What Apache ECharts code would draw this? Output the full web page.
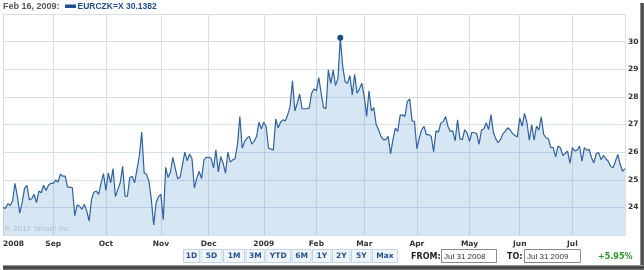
<!DOCTYPE html>
<html><head><meta charset="utf-8">
<script src="https://cdn.jsdelivr.net/npm/echarts@6/dist/echarts.min.js"></script>
<style>html,body{margin:0;padding:0;background:#fff}#c{width:644px;height:270px}</style>
</head><body><div id="c"></div>
<script>
// EURCZK=X daily close, weekdays 2008-08-01 .. 2009-07-31
const rateValues = [
24.0,23.96,24.13,24.07,24.23,24.87,24.41,23.79,24.17,24.69,
24.8,24.27,24.31,24.47,24.17,24.59,24.53,24.8,24.61,24.8,
24.87,24.87,24.99,24.92,25.2,25.13,25.13,24.73,24.73,24.71,
23.7,24.08,24.05,23.93,24.11,23.87,23.5,24.29,24.55,24.59,
24.47,24.89,25.22,24.61,25.25,24.89,25.4,24.39,24.65,24.89,
25.49,24.4,24.41,25.07,25.13,24.89,25.37,25.86,26.73,25.25,
25.19,24.95,24.29,23.36,24.17,24.39,24.47,23.55,
25.45,25.08,25.28,25.81,25.42,25.04,25.08,25.54,26.0,25.69,
25.93,25.76,24.7,25.06,25.3,25.04,25.72,25.81,25.81,25.78,
25.42,26.08,25.28,25.84,25.6,25.24,26.0,25.64,25.72,25.76,
26.27,27.29,26.14,26.39,26.51,26.57,26.29,26.39,26.57,27.08,
26.84,27.08,26.93,26.14,26.11,26.08,27.2,26.87,27.08,27.17,
27.13,27.35,27.65,28.58,27.49,27.77,28.1,27.57,27.57,27.57,
27.59,28.13,28.29,28.22,
28.7,28.13,27.61,27.57,28.98,28.49,28.98,28.41,28.67,30.1382,
29.1,28.55,28.49,28.77,28.07,28.82,28.13,28.29,28.49,28.01,
27.29,28.22,27.49,27.61,26.99,26.81,26.57,26.45,26.45,26.57,
25.94,26.45,26.87,26.75,27.33,27.35,27.29,27.83,27.93,27.13,
27.11,26.12,26.51,26.81,26.93,26.63,26.63,26.57,26.02,26.77,
26.72,27.05,27.11,27.29,26.93,26.75,26.77,26.41,27.17,26.48,
26.45,26.81,26.69,26.39,26.72,26.7,26.67,26.28,26.8,26.84,
27.06,26.82,27.36,26.7,26.48,26.34,26.46,
26.67,26.76,26.88,26.8,26.67,26.6,26.55,27.24,
26.94,27.4,27.08,26.43,27.0,26.43,26.94,26.8,27.28,26.64,
26.52,26.48,26.16,26.16,25.83,26.22,26.16,25.88,25.95,26.04,
25.59,26.16,26.04,
26.07,26.22,25.67,26.16,26.07,26.1,25.8,25.61,25.95,25.98,
25.73,25.88,25.76,25.67,25.49,25.43,25.67,25.92,25.55,25.31,25.4
];
const monthTickLabels = ['2008','Sep','Oct','Nov','Dec','2009','Feb','Mar','Apr','May','Jun','Jul'];
const yTicks = [24,25,26,27,28,29,30];
const rangeButtons = ['1D','5D','1M','3M','YTD','6M','1Y','2Y','5Y','Max'];
const symbolName = 'EURCZK=X';
const fromDate = 'Jul 31 2008', toDate = 'Jul 31 2009', changeText = '+5.95%';

// weekday categories
const dates = [];
for (let t = Date.UTC(2008,7,1); t <= Date.UTC(2009,6,31); t += 86400000) {
  const d = new Date(t); const wd = d.getUTCDay();
  if (wd === 0 || wd === 6) continue;
  dates.push(d.toISOString().slice(0,10));
}
const monthLabelAt = {};
let k = 0;
dates.forEach((s,i)=>{ if (i===0 || s.slice(5,7)!==dates[i-1].slice(5,7)) monthLabelAt[i] = monthTickLabels[k++]; });
const isMonthStart = (i)=> monthLabelAt[i] !== undefined;

let peakI = 0; rateValues.forEach((v,i)=>{ if (v>rateValues[peakI]) peakI=i; });
const mNames=['Jan','Feb','Mar','Apr','May','Jun','Jul','Aug','Sep','Oct','Nov','Dec'];
const pd = dates[peakI].split('-');
const peakDateText = mNames[+pd[1]-1]+' '+(+pd[2])+', '+pd[0]+':';

const FONT = 'DejaVu Sans';
const gridColor = '#d5e0ea';
const chart = echarts.init(document.getElementById('c'), null, {renderer:'canvas'});

function txt(x, y, s, size, color, weight, family, align) {
  return {type:'text', x:x, y:y, style:{text:s, fontSize:size, fontWeight:weight||'normal', fontFamily:family||FONT, fill:color, align:align||'left', verticalAlign:'middle'}};
}
const btnX = [183,200.5,223,245.5,265.5,291.5,312,332,351,372,398.5];
const graphics = [
  txt(3, 7, peakDateText, 9, '#555', 'bold', 'Liberation Sans'),
  {type:'rect', shape:{x:65,y:4.5,width:11,height:3.5}, style:{fill:'#1f4f8f'}},
  txt(77.5, 7, symbolName+' '+rateValues[peakI].toFixed(4), 8.5, '#1f4f8f', 'bold', 'Liberation Sans'),
  txt(4, 229, '\u00a9 2012 Yahoo! Inc.', 7, '#c3cbd3'),
  txt(411, 257, 'FROM:', 8, '#222', 'bold'),
  {type:'rect', shape:{x:441.5,y:249.5,width:55,height:13}, style:{fill:'#fff', stroke:'#8a8a8a', lineWidth:1}},
  txt(444, 256.5, fromDate, 8, '#333', 'normal', 'Liberation Sans'),
  txt(507, 257, 'TO:', 8, '#222', 'bold'),
  {type:'rect', shape:{x:524.5,y:249.5,width:56,height:13}, style:{fill:'#fff', stroke:'#8a8a8a', lineWidth:1}},
  txt(527, 256.5, toDate, 8, '#333', 'normal', 'Liberation Sans'),
  txt(598, 257, changeText, 8, '#2a962a', 'bold'),
  {type:'rect', shape:{x:640,y:3,width:4,height:267}, style:{fill:new echarts.graphic.LinearGradient(0,0,1,0,[{offset:0,color:'#b0b0b0'},{offset:0.4,color:'#444'},{offset:1,color:'#666'}])}},
  {type:'rect', shape:{x:3,y:265,width:641,height:5}, style:{fill:new echarts.graphic.LinearGradient(0,0,0,1,[{offset:0,color:'#b0b0b0'},{offset:0.4,color:'#333'},{offset:1,color:'#777'}])}}
];
rangeButtons.forEach((b,i)=>{
  const x0=btnX[i]+0.5, w=btnX[i+1]-btnX[i]-1.5;
  graphics.push({type:'rect', shape:{x:x0,y:249.5,width:w,height:13}, style:{fill:'#f0f5fb', stroke:'#c3d3e6', lineWidth:1}});
  graphics.push(txt(x0+w/2, 256.5, b, 7.5, '#1f4f8f', 'bold', FONT, 'center'));
});

chart.setOption({
  animation:false,
  backgroundColor:'#fff',
  grid:{left:2, right:19, top:14, bottom:35},
  xAxis:{
    type:'category', data:dates, boundaryGap:false,
    axisTick:{show:false},
    axisLine:{show:true, lineStyle:{color:gridColor}},
    axisLabel:{interval:(i)=>isMonthStart(i), formatter:(v,i)=>monthLabelAt[i]||'', color:'#333', fontWeight:'bold', fontSize:7.5, fontFamily:FONT, margin:5, alignMinLabel:'left', hideOverlap:false},
    splitLine:{show:true, interval:(i)=>isMonthStart(i), lineStyle:{color:gridColor, width:1}}
  },
  yAxis:{
    type:'value', position:'right', min:23, max:31, interval:1,
    axisLine:{show:true, lineStyle:{color:gridColor}},
    axisTick:{show:false},
    axisLabel:{formatter:(v)=> yTicks.indexOf(v)>=0 ? String(v) : '', color:'#333', fontWeight:'bold', fontSize:7.5, fontFamily:FONT, margin:3},
    splitLine:{show:true, lineStyle:{color:gridColor, width:1}}
  },
  series:[{
    type:'line', data:rateValues, showSymbol:false, smooth:false,
    lineStyle:{color:'#2f62a0', width:1.2},
    areaStyle:{color:'rgb(100,160,210)', opacity:0.26},
    markPoint:{data:[{type:'max'}], symbol:'circle', symbolSize:6, itemStyle:{color:'#1f4f85'}, label:{show:false}}
  }],
  graphic:graphics
});
</script></body></html>
